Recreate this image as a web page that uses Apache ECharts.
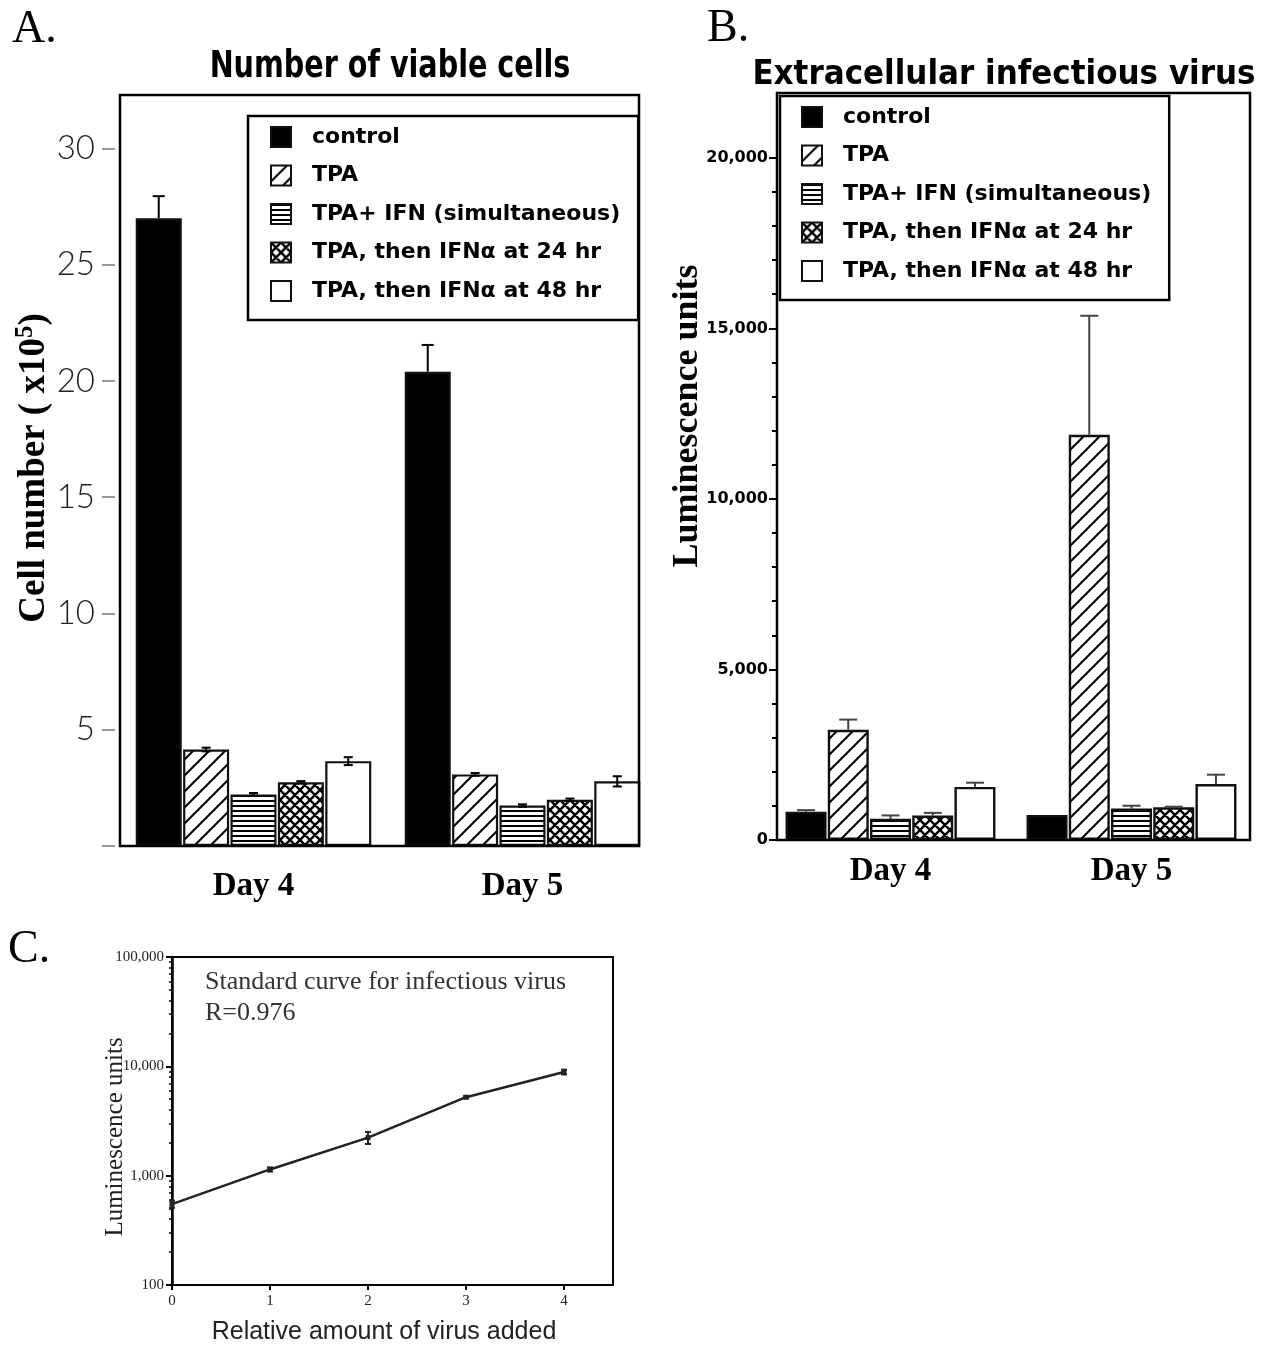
<!DOCTYPE html>
<html>
<head>
<meta charset="utf-8">
<script src="https://cdn.jsdelivr.net/npm/echarts@6/dist/echarts.min.js"></script>
<style>
  html, body { margin: 0; padding: 0; background: #fff; }
  #main { width: 1266px; height: 1345px; }
</style>
</head>
<body>
<div id="main"></div>
<script>
// categories / legend names
const days = ['Day 4', 'Day 5'];
const groups = ['control', 'TPA', 'TPA+ IFN (simultaneous)', 'TPA, then IFNα at 24 hr', 'TPA, then IFNα at 48 hr'];

// A. number of viable cells (x10^5), [Day 4, Day 5]
const cellControl = [27.0, 20.4];
const cellTPA = [4.15, 3.08];
const cellTPAIFN = [2.22, 1.74];
const cellIFN24 = [2.74, 1.99];
const cellIFN48 = [3.65, 2.78];
const cellErrControl = [0.95, 1.15];
const cellErrTPA = [0.08, 0.06];
const cellErrTPAIFN = [0.06, 0.05];
const cellErrIFN24 = [0.05, 0.05];
const cellErrIFN48 = [0.17, 0.22];
const cellTicks = [0, 5, 10, 15, 20, 25, 30];
const cellLabels = [5, 10, 15, 20, 25, 30];

// B. extracellular infectious virus (luminescence units)
const virusControl = [830, 730];
const virusTPA = [3230, 11880];
const virusTPAIFN = [620, 920];
const virusIFN24 = [715, 960];
const virusIFN48 = [1555, 1640];
const virusErrControl = [45, 0];
const virusErrTPA = [300, 3490];
const virusErrTPAIFN = [100, 85];
const virusErrIFN24 = [80, 15];
const virusErrIFN48 = [125, 275];
const virusLabels = [0, 5000, 10000, 15000, 20000];
const virusMinorTicks = [1000, 2000, 3000, 4000, 6000, 7000, 8000, 9000, 11000, 12000, 13000, 14000, 16000, 17000, 18000, 19000];

// C. standard curve
const stdX = [0, 1, 2, 3, 4];
const stdY = [550, 1140, 2230, 5220, 8880];
const stdErr = [40, 50, 280, 120, 450];
const stdXTicks = [0, 1, 2, 3, 4];
const stdMinorTicks = [200, 300, 400, 500, 600, 700, 800, 900, 2000, 3000, 4000, 5000, 6000, 7000, 8000, 9000,
  20000, 30000, 40000, 50000, 60000, 70000, 80000, 90000];

const SERIF = "'Liberation Serif', 'Times New Roman', serif";
const SANS = "'DejaVu Sans', 'Liberation Sans', sans-serif";

// hatch fills
function makePattern(kind, size, lw) {
  const c = document.createElement('canvas');
  c.width = size; c.height = size;
  const ctx = c.getContext('2d');
  ctx.fillStyle = '#fff';
  ctx.fillRect(0, 0, size, size);
  ctx.strokeStyle = '#000';
  ctx.fillStyle = '#000';
  ctx.lineWidth = lw;
  ctx.beginPath();
  if (kind === 'rows') {
    ctx.fillRect(0, 0, size, lw);
  } else {
    // "/" direction
    ctx.moveTo(-2, size + 2); ctx.lineTo(size + 2, -2);
    ctx.moveTo(-2, 2); ctx.lineTo(2, -2);
    ctx.moveTo(size - 2, size + 2); ctx.lineTo(size + 2, size - 2);
    if (kind === 'cross') {
      ctx.moveTo(-2, -2); ctx.lineTo(size + 2, size + 2);
      ctx.moveTo(size - 2, -2); ctx.lineTo(size + 2, 2);
      ctx.moveTo(-2, size - 2); ctx.lineTo(2, size + 2);
    }
    ctx.stroke();
  }
  return { image: c, repeat: 'repeat' };
}

const fills = [
  '#000',
  makePattern('diag', 16, 2),
  makePattern('rows', 5, 2),
  makePattern('cross', 10, 2.4),
  '#fff'
];

const cellValues = [cellControl, cellTPA, cellTPAIFN, cellIFN24, cellIFN48];
const cellErrs = [cellErrControl, cellErrTPA, cellErrTPAIFN, cellErrIFN24, cellErrIFN48];
const virusValues = [virusControl, virusTPA, virusTPAIFN, virusIFN24, virusIFN48];
const virusErrs = [virusErrControl, virusErrTPA, virusErrTPAIFN, virusErrIFN24, virusErrIFN48];

const BAR_A = 46, BAR_B = 41, GAP = 0.03;

function barSeries(name, idx, axis, values, barW, border) {
  return {
    type: 'bar', name: name, xAxisIndex: axis.x, yAxisIndex: axis.y,
    data: values, barWidth: barW, barGap: (GAP * 100) + '%',
    itemStyle: { color: fills[idx], borderColor: '#111', borderWidth: border },
    z: 2, silent: true
  };
}

function errorSeries(idx, axis, values, errs, barW, dir, color, cap, lw) {
  return {
    type: 'custom', name: 'err' + axis.x + '_' + idx, xAxisIndex: axis.x, yAxisIndex: axis.y,
    data: values.map((v, i) => [i, v, errs[i]]),
    encode: { x: 0, y: 1 }, z: 5, silent: true,
    renderItem: function (params, api) {
      const cat = api.value(0), v = api.value(1), e = api.value(2);
      if (!e) return { type: 'group', children: [] };
      const base = api.coord([cat, v]);
      const x = base[0] + (idx - 2) * barW * (1 + GAP);
      const yTop = api.coord([cat, v + e])[1];
      const yBot = dir === 'both' ? api.coord([cat, v - e])[1] : base[1];
      const style = { stroke: color, lineWidth: lw };
      const kids = [
        { type: 'line', shape: { x1: x, y1: yTop, x2: x, y2: yBot }, style: style },
        { type: 'line', shape: { x1: x - cap / 2, y1: yTop, x2: x + cap / 2, y2: yTop }, style: style }
      ];
      if (dir === 'both') {
        kids.push({ type: 'line', shape: { x1: x - cap / 2, y1: yBot, x2: x + cap / 2, y2: yBot }, style: style });
      }
      return { type: 'group', children: kids };
    }
  };
}

const series = [];
groups.forEach((g, i) => {
  series.push(barSeries(g, i, { x: 0, y: 0 }, cellValues[i], BAR_A, 2.2));
  series.push(errorSeries(i, { x: 0, y: 0 }, cellValues[i], cellErrs[i], BAR_A, i === 0 ? 'up' : 'both', '#000', i === 0 ? 12 : 9, 2));
});
groups.forEach((g, i) => {
  series.push(barSeries(g, i, { x: 1, y: 1 }, virusValues[i], BAR_B, 2.4));
  series.push(errorSeries(i, { x: 1, y: 1 }, virusValues[i], virusErrs[i], BAR_B, 'up', '#444', 18, 2));
});

// standard curve line + error bars
series.push({
  type: 'line', name: 'standard', xAxisIndex: 2, yAxisIndex: 3,
  data: stdX.map((x, i) => [x, stdY[i]]),
  symbol: 'rect', symbolSize: 5,
  lineStyle: { color: '#222', width: 2.5 },
  itemStyle: { color: '#222' }, silent: true
});
series.push({
  type: 'custom', name: 'stdErr', xAxisIndex: 2, yAxisIndex: 3,
  data: stdX.map((x, i) => [x, stdY[i], stdErr[i]]),
  encode: { x: 0, y: 1 }, z: 5, silent: true,
  renderItem: function (params, api) {
    const x = api.value(0), v = api.value(1), e = api.value(2);
    const top = api.coord([x, v + e]);
    const bot = api.coord([x, v - e]);
    const style = { stroke: '#222', lineWidth: 2 };
    return {
      type: 'group', children: [
        { type: 'line', shape: { x1: top[0], y1: top[1], x2: bot[0], y2: bot[1] }, style: style },
        { type: 'line', shape: { x1: top[0] - 3, y1: top[1], x2: top[0] + 3, y2: top[1] }, style: style },
        { type: 'line', shape: { x1: bot[0] - 3, y1: bot[1], x2: bot[0] + 3, y2: bot[1] }, style: style }
      ]
    };
  }
});

const legendBase = {
  orient: 'vertical', icon: 'rect', itemWidth: 20, itemHeight: 20, itemGap: 16.5,
  padding: [10, 18, 18, 22], borderColor: '#000', borderWidth: 2.5,
  selectedMode: false, data: groups,
  textStyle: { fontFamily: SANS, fontWeight: 'bold', fontSize: 22, lineHeight: 22, color: '#000', padding: [0, 0, 0, 16] }
};

const dayLabel = { fontFamily: SERIF, fontWeight: 'bold', fontSize: 33, color: '#000' };
const mid = { align: 'center', textAlign: 'center', verticalAlign: 'middle', textVerticalAlign: 'middle' };

const option = {
  animation: false,
  backgroundColor: '#fff',
  grid: [
    { left: 119, top: 95, width: 538, height: 751 },
    { left: 770, top: 93, width: 482, height: 747 },
    { left: 172, top: 957, width: 441, height: 328, show: true, borderColor: '#000', borderWidth: 2 }
  ],
  legend: [
    Object.assign({}, legendBase, { left: 248, top: 116 }),
    Object.assign({}, legendBase, { left: 780, top: 96, padding: [10, 18, 18, 21] })
  ],
  xAxis: [
    { type: 'category', gridIndex: 0, data: days, axisLine: { show: false }, axisTick: { show: false },
      axisLabel: Object.assign({ margin: 24 }, dayLabel) },
    { type: 'category', gridIndex: 1, data: days, axisLine: { show: false }, axisTick: { show: false },
      axisLabel: Object.assign({ margin: 15 }, dayLabel) },
    { type: 'value', gridIndex: 2, min: 0, max: 4.5, interval: 1, splitLine: { show: false },
      axisLine: { show: true, lineStyle: { color: '#000', width: 2 } },
      axisTick: { show: true, customValues: stdXTicks, length: 5, lineStyle: { color: '#000', width: 2 } },
      axisLabel: { customValues: stdXTicks, margin: 9, fontFamily: SERIF, fontSize: 15, color: '#222' } }
  ],
  yAxis: [
    { type: 'value', gridIndex: 0, position: 'left', min: 0, max: 32.3, interval: 5, offset: 4, splitLine: { show: false },
      axisLine: { show: false },
      axisTick: { show: true, customValues: cellTicks, length: 13, lineStyle: { color: '#777', width: 1.5 } },
      axisLabel: { customValues: cellLabels, margin: 20, fontFamily: "Lato, 'Open Sans', sans-serif", fontWeight: 300, fontSize: 33, color: '#222' } },
    { type: 'value', gridIndex: 1, position: 'left', min: 0, max: 21900, interval: 5000, offset: -7, splitLine: { show: false },
      axisLine: { show: false },
      axisTick: { show: true, customValues: virusLabels, length: 8, lineStyle: { color: '#000', width: 2 } },
      axisLabel: { customValues: virusLabels, margin: 9, fontFamily: SANS, fontWeight: 'bold', fontSize: 16, color: '#000',
        formatter: v => v.toLocaleString('en-US') } },
    { type: 'value', gridIndex: 1, position: 'left', min: 0, max: 21900, offset: -7, splitLine: { show: false },
      axisLine: { show: false }, axisLabel: { show: false },
      axisTick: { show: true, customValues: virusMinorTicks, length: 5, lineStyle: { color: '#000', width: 2 } } },
    { type: 'log', gridIndex: 2, position: 'left', min: 100, max: 100000, logBase: 10, splitLine: { show: false },
      axisLine: { show: true, lineStyle: { color: '#000', width: 2.5 } },
      axisTick: { show: true, length: 6, lineStyle: { color: '#000', width: 2 } },
      axisLabel: { margin: 8, fontFamily: SERIF, fontSize: 15, color: '#222',
        formatter: v => Math.round(v).toLocaleString('en-US') } },
    { type: 'log', gridIndex: 2, position: 'left', min: 100, max: 100000, logBase: 10, splitLine: { show: false },
      axisLine: { show: false }, axisLabel: { show: false },
      axisTick: { show: true, customValues: stdMinorTicks, length: 3, lineStyle: { color: '#000', width: 1.5 } } }
  ],
  graphic: [
    // frames
    { type: 'rect', z: 10, silent: true, shape: { x: 120, y: 95, width: 519, height: 751 },
      style: { fill: 'none', stroke: '#000', lineWidth: 2.5 } },
    { type: 'rect', z: 10, silent: true, shape: { x: 777, y: 93, width: 473, height: 747 },
      style: { fill: 'none', stroke: '#000', lineWidth: 2.5 } },
    // panel letters
    { type: 'text', x: 12, y: 30, style: { text: 'A.', font: '46px ' + SERIF, fill: '#000', verticalAlign: 'middle', textVerticalAlign: 'middle' } },
    { type: 'text', x: 707, y: 29, style: { text: 'B.', font: '46px ' + SERIF, fill: '#000', verticalAlign: 'middle', textVerticalAlign: 'middle' } },
    { type: 'text', x: 8, y: 950, style: { text: 'C.', font: '46px ' + SERIF, fill: '#000', verticalAlign: 'middle', textVerticalAlign: 'middle' } },
    // titles
    { type: 'text', x: 390, y: 67, scaleX: 0.86, style: Object.assign({ text: 'Number of viable cells',
      font: "bold 37px 'DejaVu Sans Condensed', 'DejaVu Sans', sans-serif", fill: '#000' }, mid) },
    { type: 'text', x: 1004, y: 75, scaleX: 0.94, style: Object.assign({ text: 'Extracellular infectious virus',
      font: 'bold 33px ' + SANS, fill: '#000' }, mid) },
    // axis titles
    { type: 'text', x: 34, y: 468, rotation: Math.PI / 2,
      style: Object.assign({ text: '{a|Cell number ( x10}{s|5}{a|)}',
        rich: { a: { fontFamily: SERIF, fontWeight: 'bold', fontSize: 37, fill: '#000', color: '#000' },
                s: { fontFamily: SERIF, fontWeight: 'bold', fontSize: 25, fill: '#000', color: '#000', padding: [0, 0, 16, 0] } } }, mid) },
    { type: 'text', x: 688, y: 416, rotation: Math.PI / 2,
      style: Object.assign({ text: 'Luminescence units', font: 'bold 36px ' + SERIF, fill: '#000' }, mid) },
    { type: 'text', x: 115, y: 1137, rotation: Math.PI / 2,
      style: Object.assign({ text: 'Luminescence units', font: '25px ' + SERIF, fill: '#222' }, mid) },
    { type: 'text', x: 384, y: 1332,
      style: Object.assign({ text: 'Relative amount of virus added', font: "25px 'Liberation Sans', Arial, sans-serif", fill: '#222' }, mid) },
    // annotation
    { type: 'text', x: 205, y: 982,
      style: { text: 'Standard curve for infectious virus', font: '26px ' + SERIF, fill: '#333', verticalAlign: 'middle', textVerticalAlign: 'middle' } },
    { type: 'text', x: 205, y: 1013,
      style: { text: 'R=0.976', font: '26px ' + SERIF, fill: '#333', verticalAlign: 'middle', textVerticalAlign: 'middle' } }
  ],
  series: series
};

const chart = echarts.init(document.getElementById('main'));
chart.setOption(option);
</script>
</body>
</html>
